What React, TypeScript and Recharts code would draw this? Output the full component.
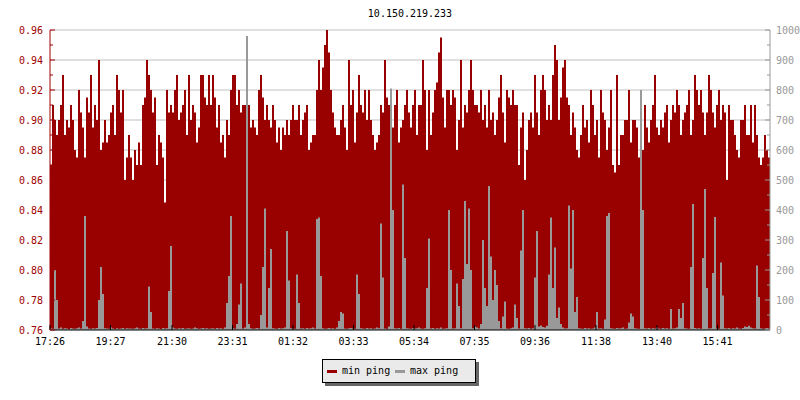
import React from 'react';
import { ComposedChart, Area, XAxis, YAxis, CartesianGrid } from 'recharts';

const FONT = '"DejaVu Sans Mono", monospace';
const RED = '#990000';
const GREY = '#999999';
const AXIS_RED = '#a00000';

const title = '10.150.219.233';

// min ping (ms), one sample every 4 minutes starting 17:26
const minPing = [
  0.87, 0.91, 0.90, 0.89, 0.90, 0.91, 0.93, 0.89, 0.90, 0.895,
  0.91, 0.90, 0.88, 0.875, 0.92, 0.905, 0.895, 0.875, 0.915, 0.905,
  0.93, 0.895, 0.91, 0.90, 0.94, 0.88, 0.885, 0.90, 0.885, 0.89,
  0.905, 0.91, 0.89, 0.93, 0.92, 0.905, 0.92, 0.86, 0.875, 0.89,
  0.875, 0.86, 0.88, 0.87, 0.885, 0.87, 0.91, 0.915, 0.94, 0.93,
  0.92, 0.905, 0.915, 0.87, 0.89, 0.885, 0.875, 0.845, 0.92, 0.905,
  0.91, 0.905, 0.92, 0.93, 0.90, 0.905, 0.91, 0.92, 0.89, 0.93,
  0.90, 0.91,
  0.905, 0.885, 0.895, 0.93, 0.93, 0.915, 0.91, 0.93, 0.91, 0.93,
  0.915, 0.895, 0.91, 0.885, 0.89, 0.875, 0.90, 0.89, 0.92, 0.93,
  0.93, 0.91, 0.92, 0.905, 0.91, 0.91, 0.86, 0.91, 0.895, 0.90,
  0.895, 0.89, 0.92, 0.93, 0.915, 0.90, 0.91, 0.90, 0.895, 0.91,
  0.90, 0.885, 0.895, 0.88, 0.895, 0.89, 0.90, 0.89, 0.90, 0.91,
  0.90, 0.90, 0.91, 0.89, 0.90, 0.905, 0.91, 0.88, 0.885, 0.89,
  0.89, 0.92, 0.94, 0.92, 0.935, 0.95, 0.96, 0.945, 0.92, 0.905,
  0.895, 0.89,
  0.89, 0.90, 0.91, 0.895, 0.88, 0.94, 0.91, 0.92, 0.885, 0.905,
  0.93, 0.91, 0.905, 0.92, 0.90, 0.92, 0.90, 0.89, 0.88, 0.885,
  0.89, 0.91, 0.905, 0.94, 0.915, 0.91, 0.90, 0.895, 0.91, 0.92,
  0.885, 0.895, 0.90, 0.91, 0.92, 0.905, 0.895, 0.91, 0.92, 0.89,
  0.91, 0.91, 0.94, 0.92, 0.88, 0.92, 0.89, 0.905, 0.92, 0.925,
  0.945, 0.955, 0.915, 0.895, 0.92, 0.92, 0.91, 0.92, 0.915, 0.88,
  0.90, 0.94, 0.895, 0.91, 0.905, 0.92, 0.94, 0.92, 0.91, 0.91,
  0.905, 0.92,
  0.90, 0.91, 0.895, 0.92, 0.90, 0.905, 0.89, 0.90, 0.915, 0.93,
  0.905, 0.885, 0.92, 0.915, 0.91, 0.92, 0.91, 0.91, 0.87, 0.895,
  0.905, 0.86, 0.88, 0.90, 0.905, 0.895, 0.93, 0.905, 0.89, 0.92,
  0.93, 0.92, 0.90, 0.91, 0.90, 0.93, 0.95, 0.94, 0.90, 0.915,
  0.935, 0.94, 0.915, 0.91, 0.89, 0.905, 0.895, 0.88, 0.875, 0.89,
  0.91, 0.895, 0.90, 0.885, 0.92, 0.91, 0.89, 0.90, 0.875, 0.92,
  0.905, 0.90, 0.88, 0.895, 0.92, 0.87, 0.865, 0.93, 0.87, 0.89,
  0.89, 0.90,
  0.90, 0.92, 0.885, 0.90, 0.90, 0.895, 0.875, 0.92, 0.88, 0.91,
  0.895, 0.885, 0.90, 0.91, 0.93, 0.895, 0.89, 0.90, 0.895, 0.905,
  0.91, 0.885, 0.90, 0.91, 0.905, 0.92, 0.91, 0.89, 0.90, 0.905,
  0.91, 0.92, 0.89, 0.90, 0.93, 0.92, 0.91, 0.92, 0.905, 0.89,
  0.905, 0.93, 0.92, 0.905, 0.895, 0.91, 0.92, 0.90, 0.91, 0.905,
  0.86, 0.91, 0.90, 0.90, 0.89, 0.88, 0.875, 0.90, 0.90, 0.91,
  0.89, 0.89, 0.91, 0.885, 0.91, 0.89, 0.875, 0.87, 0.875, 0.89,
  0.88, 0.875, 0.885,
];

// max ping (ms), same samples
const maxPing = [
  6, 4, 200, 100, 5, 8, 4, 6, 5, 3, 7, 5, 4, 6, 8, 5, 30, 380, 12, 5,
  4, 6, 5, 7, 100, 210, 120, 6, 5, 4, 8, 5, 3, 6, 4, 5, 7, 4, 6, 5,
  5, 4, 6, 8, 5, 4, 7, 5, 6, 145, 60, 5, 4, 6, 5, 3, 7, 5, 6, 130,
  280, 8, 5, 4, 6, 5, 7, 4, 5, 6, 4, 5, 8, 6, 4, 5, 7, 5, 6, 4,
  5, 6, 4, 7, 5, 6, 4, 8, 90, 180, 380, 6, 4, 20, 85, 155, 5, 8, 980, 20,
  6, 4, 5, 7, 5, 50, 210, 405, 8, 140, 270, 6, 5, 4, 7, 5, 6, 8, 330, 165,
  6, 5, 4, 185, 90, 5, 6, 4, 7, 5, 6, 8, 5, 370, 375, 180, 6, 4, 5, 7,
  5, 6, 4, 8, 30, 60, 55, 5, 4, 6, 7, 5, 4, 185, 120, 6, 5, 4, 7, 5,
  6, 4, 5, 8, 6, 355, 175, 5, 4, 12, 805, 400, 6, 5, 7, 4, 485, 240, 6, 5,
  4, 7, 5, 6, 8, 5, 4, 6, 140, 305, 5, 7, 4, 6, 5, 8, 4, 5, 6, 400,
  200, 5, 6, 155, 80, 6, 170, 430, 220, 405, 200, 6, 12, 8, 5, 20, 300, 140, 80, 480,
  245, 100, 200, 150, 30, 6, 45, 95, 5, 4, 6, 8, 85, 40, 5, 265, 400, 6, 5, 7,
  4, 6, 175, 330, 12, 15, 10, 8, 14, 185, 375, 140, 275, 40, 75, 20, 8, 5, 6, 415,
  205, 400, 60, 110, 6, 5, 4, 7, 5, 6, 4, 5, 8, 60, 5, 6, 4, 35, 380, 390,
  6, 5, 4, 7, 5, 6, 8, 4, 5, 25, 55, 45, 6, 5, 4, 800, 400, 6, 5, 7,
  4, 6, 5, 8, 5, 4, 7, 5, 6, 4, 70, 5, 6, 8, 70, 40, 90, 6, 5, 4,
  210, 420, 7, 5, 6, 4, 240, 470, 140, 5, 6, 190, 377, 5, 4, 225, 115, 6, 5, 7,
  4, 6, 5, 8, 5, 4, 7, 12, 10, 14, 8, 6, 5, 215, 110, 6, 4, 5, 7, 5,
  6,
];

const SAMPLE_MINUTES = 4;

const xTickMinutes = [0, 121, 244, 365, 486, 607, 728, 849, 970, 1092, 1214, 1335];
const xTickLabels = ['17:26', '19:27', '21:30', '23:31', '01:32', '03:33', '05:34', '07:35', '09:36', '11:38', '13:40', '15:41'];

const leftTicks = [0.76, 0.77, 0.78, 0.79, 0.8, 0.81, 0.82, 0.83, 0.84, 0.85, 0.86, 0.87, 0.88, 0.89, 0.9, 0.91, 0.92, 0.93, 0.94, 0.95, 0.96];
const gridValues = [0.78, 0.8, 0.82, 0.84, 0.86, 0.88, 0.9, 0.92, 0.94, 0.96];
const rightTicks = [0, 50, 100, 150, 200, 250, 300, 350, 400, 450, 500, 550, 600, 650, 700, 750, 800, 850, 900, 950, 1000];

const series = [
  { key: 'min', name: 'min ping', color: RED },
  { key: 'max', name: 'max ping', color: GREY },
];

const data = minPing.map((v, i) => ({ t: i * SAMPLE_MINUTES, min: v, max: maxPing[i] }));

const XTick = (props: any) => {
  const { x, y, payload } = props;
  const idx = xTickMinutes.indexOf(payload.value);
  return (
    <g>
      <line x1={x} x2={x} y1={y} y2={y - 5} stroke="#000" />
      <text x={x} y={y + 15} textAnchor="middle" fill="#000" fontSize={10} fontFamily={FONT}>
        {xTickLabels[idx]}
      </text>
    </g>
  );
};

const LeftTick = (props: any) => {
  const { x, y, payload } = props;
  const major = Math.round(payload.value * 100) % 2 === 0;
  return (
    <g>
      <line x1={x} x2={x + (major ? 5 : 3)} y1={y} y2={y} stroke={AXIS_RED} />
      {major && (
        <text x={x - 7} y={y + 4} textAnchor="end" fill={AXIS_RED} fontSize={10} fontFamily={FONT}>
          {payload.value.toFixed(2)}
        </text>
      )}
    </g>
  );
};

const RightTick = (props: any) => {
  const { x, y, payload } = props;
  const major = payload.value % 100 === 0;
  return (
    <g>
      <line x1={x} x2={x - (major ? 5 : 3)} y1={y} y2={y} stroke={GREY} />
      {major && (
        <text x={x + 6} y={y + 4} textAnchor="start" fill={GREY} fontSize={10} fontFamily={FONT}>
          {payload.value}
        </text>
      )}
    </g>
  );
};

const PingLegend = () => (
  <div
    style={{
      position: 'absolute',
      left: 322,
      top: 359,
      width: 154,
      height: 24,
      boxSizing: 'border-box',
      border: '1px solid #000',
      background: '#eaeaea',
      boxShadow: '3px 3px 0 #666',
    }}
  >
    {series.map((s, i) => (
      <React.Fragment key={s.key}>
        <div style={{ position: 'absolute', left: 4 + i * 68, top: 10, width: 10, height: 3, background: s.color }} />
        <div style={{ position: 'absolute', left: 19 + i * 68, top: 5, fontSize: 10, lineHeight: '12px', color: '#000', whiteSpace: 'nowrap' }}>
          {s.name}
        </div>
      </React.Fragment>
    ))}
  </div>
);

export default function App() {
  return (
    <div style={{ position: 'absolute', left: 0, top: 0, width: 800, height: 400, background: '#fff', fontFamily: FONT }}>
      <div style={{ position: 'absolute', left: 50, top: 8, width: 720, textAlign: 'center', fontSize: 10, lineHeight: '12px', color: '#000' }}>
        {title}
      </div>
      <ComposedChart width={800} height={400} data={data} margin={{ top: 30, right: 0, bottom: 50, left: 0 }}>
        <CartesianGrid yAxisId="left" horizontal vertical={false} horizontalValues={gridValues} stroke="#c0c0c0" />
        <XAxis
          dataKey="t"
          type="number"
          domain={[0, 1440]}
          allowDataOverflow
          ticks={xTickMinutes}
          interval={0}
          height={20}
          tickSize={0}
          tickMargin={0}
          tick={<XTick />}
          axisLine={{ stroke: '#000' }}
        />
        <YAxis
          yAxisId="left"
          orientation="left"
          type="number"
          domain={[0.76, 0.96]}
          allowDataOverflow
          ticks={leftTicks}
          interval={0}
          width={50}
          tickSize={0}
          tickMargin={0}
          tick={<LeftTick />}
          axisLine={{ stroke: AXIS_RED }}
        />
        <YAxis
          yAxisId="right"
          orientation="right"
          type="number"
          domain={[0, 1000]}
          allowDataOverflow
          ticks={rightTicks}
          interval={0}
          width={30}
          tickSize={0}
          tickMargin={0}
          tick={<RightTick />}
          axisLine={{ stroke: GREY }}
        />
        <Area
          yAxisId="left"
          type="stepAfter"
          dataKey="min"
          name="min ping"
          stroke="none"
          fill={RED}
          fillOpacity={1}
          dot={false}
          activeDot={false}
          isAnimationActive={false}
        />
        <Area
          yAxisId="right"
          type="stepAfter"
          dataKey="max"
          name="max ping"
          stroke="none"
          fill={GREY}
          fillOpacity={1}
          dot={false}
          activeDot={false}
          isAnimationActive={false}
        />
      </ComposedChart>
      <PingLegend />
    </div>
  );
}
